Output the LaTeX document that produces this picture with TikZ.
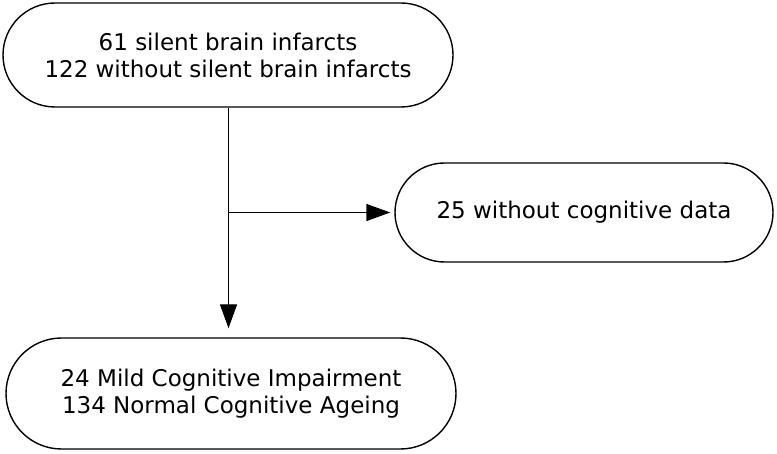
\documentclass[tikz,border=0pt]{standalone}
\usepackage{fontspec}
\setmainfont{DejaVu Sans}
\usetikzlibrary{arrows.meta}
\tikzset{
  termbox/.style={draw=black, line width=1.4pt, fill=white, align=center, inner sep=0pt,
    font=\fontsize{23}{27}\selectfont},
  flowline/.style={draw=black, line width=1.4pt},
  flowarrow/.style={flowline, -{Triangle[length=24pt,width=17pt]}}
}
\begin{document}
\begin{tikzpicture}[x=1pt,y=-1pt]
\useasboundingbox (0,0) rectangle (777,454);
\node[termbox, minimum width=450pt, minimum height=104pt, rounded corners=52pt] (top) at (228,55)
  {61 silent brain infarcts\\122 without silent brain infarcts};
\node[termbox, minimum width=378pt, minimum height=99pt, rounded corners=49.5pt] (side) at (584,212.5)
  {25 without cognitive data};
\node[termbox, minimum width=450pt, minimum height=111pt, rounded corners=55.5pt] (bot) at (231,393.5)
  {24 Mild Cognitive Impairment\\134 Normal Cognitive Ageing};
\coordinate (j) at (228.5,212.5);
\draw[flowline] (top.south -| j) -- (j);
\draw[flowarrow, shorten >=9pt] (j) -- (bot.north -| j);
\draw[flowarrow, shorten >=4pt] (j) -- (side.west);
\end{tikzpicture}
\end{document}
